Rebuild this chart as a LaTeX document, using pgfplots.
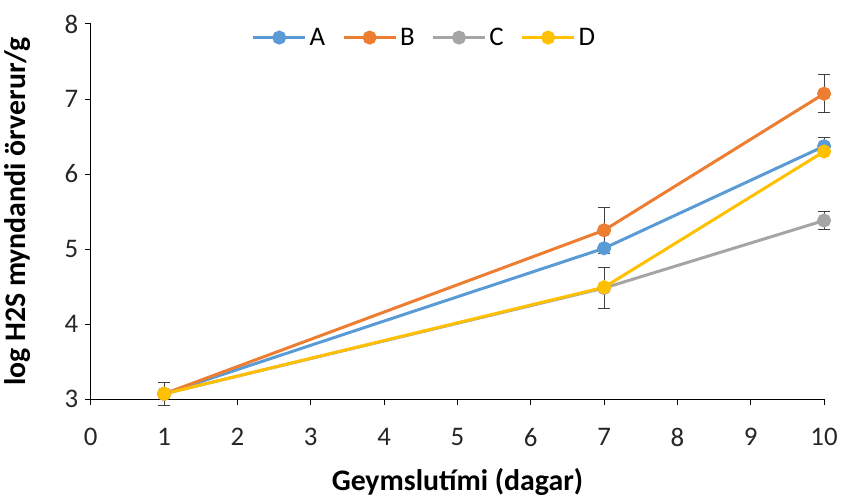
\documentclass[border=0pt]{standalone}
\usepackage{pgfplots}
\pgfplotsset{compat=1.18}
\usepackage{fontspec}
\setmainfont{Carlito}
\definecolor{cA}{HTML}{5B9BD5}
\definecolor{cB}{HTML}{ED7D31}
\definecolor{cC}{HTML}{A5A5A5}
\definecolor{cD}{HTML}{FFC000}
\definecolor{errc}{HTML}{404040}
\begin{document}
\begin{tikzpicture}
\begin{axis}[
  scale only axis,
  width=735bp, height=376bp,
  xmin=0, xmax=10, ymin=3, ymax=8,
  xtick={0,1,...,10}, ytick={3,4,...,8},
  axis lines*=left,
  axis line style={line width=0.9bp, black},
  tick style={line width=0.9bp, black},
  tick align=outside,
  major tick length=6bp,
  clip=false,
  /pgf/number format/assume math mode=true,
  tick label style={font=\fontsize{27}{32}\selectfont, text=black!85},
  xticklabel style={yshift=-20bp},
  yticklabel style={xshift=-3bp},
  xlabel={\textbf{Geymslutími (dagar)}},
  ylabel={\textbf{log H2S myndandi örverur/g}},
  label style={font=\fontsize{30}{36}\selectfont},
  xlabel style={at={(axis description cs:0.5,-0.220)}, anchor=center},
  ylabel style={at={(axis description cs:-0.100,0.5)}, anchor=center},
  legend columns=4,
  legend style={draw=none, fill=none, at={(0.455,1.0)}, anchor=north,
    font=\fontsize{27}{32}\selectfont, column sep=1bp,
    /tikz/every even column/.style={column sep=15bp}},
  legend image code/.code={
    \draw[#1, line width=3bp, mark repeat=2, mark phase=2] plot coordinates {(0bp,0bp) (26bp,0bp) (52bp,0bp)};
  },
  every axis plot/.append style={line width=3bp, mark=*, mark size=5.5bp,
    error bars/y dir=both, error bars/y explicit,
    error bars/error bar style={line width=1bp, errc},
    error bars/error mark options={line width=1bp, errc, mark size=6bp, rotate=90}},
]
\addplot[cA, mark options={fill=cA, draw=cA}] coordinates {
  (1,3.07) +- (0,0.15)
  (7,5.01) +- (0,0)
  (10,6.37) +- (0,0.11)
};
\addlegendentry{A}
\addplot[cB, mark options={fill=cB, draw=cB}] coordinates {
  (1,3.07) +- (0,0)
  (7,5.25) +- (0,0.31)
  (10,7.07) +- (0,0.25)
};
\addlegendentry{B}
\addplot[cC, mark options={fill=cC, draw=cC}] coordinates {
  (1,3.07) +- (0,0)
  (7,4.48) +- (0,0.27)
  (10,5.38) +- (0,0.12)
};
\addlegendentry{C}
\addplot[cD, mark options={fill=cD, draw=cD}] coordinates {
  (1,3.07) +- (0,0)
  (7,4.49) +- (0,0)
  (10,6.30) +- (0,0)
};
\addlegendentry{D}
\end{axis}
\path (-91bp,-94bp) rectangle (750bp,400bp);
\end{tikzpicture}
\end{document}
